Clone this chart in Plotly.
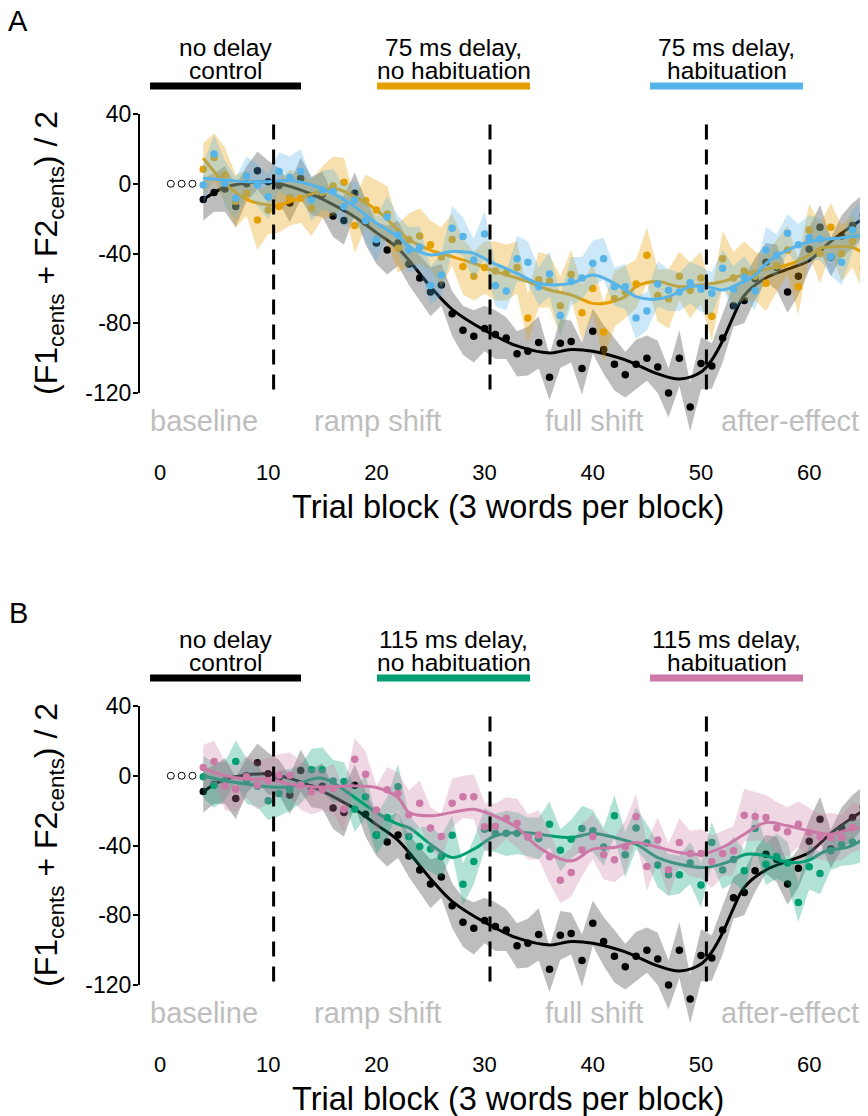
import plotly.graph_objects as go

# page has an 8px body margin; figure is sized so that it fills the 868x1116 window
PAGE_OFF = 8
W, H = 868 - PAGE_OFF, 1116 - PAGE_OFF
FONT = "Liberation Sans, Arial, sans-serif"

# ---------------- data ----------------
blocks = list(range(4, 66))
baseline_blocks = [1, 2, 3]
baseline_vals = [0, 0, 0]

x_ticks = [0, 10, 20, 30, 40, 50, 60]
y_ticks = [40, 0, -40, -80, -120]
y_ticktext = ["40", "0", "-40", "-80", "-120"]

phase_bounds = [10.5, 30.5, 50.5]
phase_names = ["baseline", "ramp shift", "full shift", "after-effect"]
phase_label_x = [4.1, 20.1, 40.1, 58.2]

black_vals = [-9, -5, -3, -13, 0, 7.5, 1.2, -1, -11, 3,
              -7, -6, -18.5, -21, -5.5, -22, -34, -38, -34, -46,
              -54, -62, -58, -74.5, -84, -87.5, -83, -86.5, -88.5, -97.5,
              -96, -91, -111, -91.5, -90.5, -106, -84.5, -95, -103.5, -109.5,
              -103.5, -100, -105, -120, -100, -128, -103, -104.5, -88.5, -70,
              -67, -54.5, -45, -48, -62, -53, -37.5, -25, -42, -30,
              -24, -18]
black_se = [12, 11, 13, 12, 10, 11, 12, 10, 11, 12,
            11, 13, 12, 14, 12, 13, 12, 14, 13, 12,
            13, 14, 12, 13, 14, 15, 13, 14, 12, 13,
            14, 15, 13, 14, 12, 15, 13, 14, 15, 13,
            14, 13, 15, 14, 16, 14, 15, 13, 14, 12,
            13, 12, 11, 13, 12, 11, 12, 13, 11, 12,
            13, 12]
black_smooth_x = [4, 6, 8, 10, 12, 14, 16, 18, 20, 22, 25, 27, 30, 33, 36, 38, 40, 43, 46, 48,
                  50, 51, 52, 53, 54, 56, 58, 60, 62, 64, 65]
black_smooth_y = [-9, -2, 0.5, 1, -1.5, -6, -12, -19, -28, -37, -59, -72, -84, -93, -97, -95, -96, -101, -109, -112,
                  -108, -101, -90, -76, -64, -54, -49, -44, -33, -24, -20]

orange_vals = [8.3, 15, 5, -10, -5.5, -20.8, -15, -13, -8, -8.3,
               -14, -5, -1.3, 0.8, -24, -9.7, -15, -17.3, -37, -32,
               -30, -35, -42, -32, -47.5, -53, -48, -50, -51, -48,
               -77, -55, -56, -70, -52, -74, -60, -85, -66, -62,
               -57.5, -41, -64, -66, -53, -61, -54, -76, -43, -54,
               -50, -53, -57, -47, -38, -59, -26.5, -40, -25, -40,
               -33, -48]
orange_se = [15, 14, 16, 15, 13, 17, 14, 15, 16, 14,
             16, 15, 17, 14, 16, 15, 17, 16, 14, 15,
             16, 14, 17, 15, 16, 14, 15, 17, 16, 15,
             14, 16, 15, 17, 14, 16, 15, 17, 16, 15,
             14, 16, 15, 17, 14, 16, 15, 14, 16, 15,
             17, 14, 16, 15, 14, 16, 15, 17, 14, 16,
             15, 14]
orange_smooth_x = [4, 6, 8, 10, 11, 12, 14, 16, 18, 20, 22, 23, 25, 27, 29, 31, 33.6, 36, 38, 40,
                   41, 43, 44, 46, 48, 50, 52, 54, 56, 58, 60, 61, 62.5, 64, 65]
orange_smooth_y = [14.6, 0.3, -8.9, -12.2, -12.2, -10.3, -5.9, -2.6, -7.4, -15, -26.5, -32, -38, -41.8, -45.6,
                   -50.4, -55.2, -60.9, -63.8, -68.6, -68.6, -64.7, -59, -56.1, -59, -58, -56, -52, -49, -46.6,
                   -41, -37, -36.1, -36.4, -39.9]

blue_vals = [-0.7, 17, 0.3, -8.3, 4.5, -0.7, -7.4, 7, 3.7, 7,
             -9.3, -3.6, -4.5, -13, -9.3, -21, -32, -19, -29.4, -38,
             -36.4, -58.4, -52.3, -25.5, -30.3, -43.7, -28.8, -58.4, -61.5, -43,
             -45, -59, -51.7, -75.6, -56, -54, -45.6, -43, -59, -59,
             -77, -73, -57.5, -61, -62, -56.7, -60.5, -62.8, -48.5, -60.3,
             -53.6, -61.3, -38, -41, -28.4, -35, -31, -31.7, -41.8, -45,
             -26.5, -21]
blue_se = [12, 11, 13, 12, 11, 12, 13, 11, 12, 13,
           12, 11, 13, 12, 11, 12, 13, 12, 11, 13,
           12, 11, 12, 13, 11, 12, 13, 12, 11, 13,
           12, 11, 13, 12, 14, 12, 13, 12, 11, 13,
           12, 11, 13, 12, 11, 12, 13, 12, 11, 13,
           12, 11, 13, 12, 11, 12, 13, 12, 11, 13,
           12, 11]
blue_smooth_x = [4, 6, 8, 10, 12, 14, 16, 18, 20, 22, 23, 25, 27, 29, 30.5, 33, 35, 38, 40, 42,
                 44, 45.6, 47, 49, 50.5, 52, 53.3, 54.8, 56.4, 58, 59.5, 61, 62.5, 64, 65]
blue_smooth_y = [3.1, 2.2, 1.2, 1.2, 1.8, -0.7, -5.5, -13.1, -22.7, -30.3, -36, -40.8, -38.9, -39.9, -44.7,
                 -51.4, -57.1, -57.1, -52.3, -57.1, -64.7, -66.3, -64.7, -59, -59, -60.9, -58, -53.3, -43.7,
                 -38, -34.2, -32.2, -31.3, -30.3, -29.4]

green_vals = [-0.6, -5.4, -3, 8.2, -3, -6, -14.4, -10.2, -8, -5,
              3.4, 3.4, -3, -3.3, -19.2, -12, -33.9, -23.9, -6.3, -34.8,
              -40.6, -42, -46.3, -34.1, -62.2, -49.2, -30.6, -32.9, -33, -33,
              -35, -36, -27.8, -42.7, -36.4, -30.2, -31.6, -40.8, -23, -45.3,
              -30, -38.6, -51.1, -56.8, -56.8, -50, -62.7, -38.3, -54.1, -48,
              -54.5, -30.2, -50.7, -46.1, -50, -72.7, -52.2, -56, -43, -39.6,
              -38, -37.3]
green_se = [12, 13, 11, 12, 13, 12, 11, 13, 12, 11,
            12, 13, 12, 11, 13, 12, 11, 12, 13, 12,
            11, 13, 12, 11, 12, 13, 12, 11, 13, 12,
            11, 12, 13, 12, 11, 13, 12, 11, 12, 13,
            12, 11, 13, 12, 11, 12, 13, 12, 11, 13,
            12, 11, 12, 13, 12, 11, 13, 12, 11, 12,
            13, 12]
green_smooth_x = [4, 6, 8, 10, 12, 14, 15, 16, 18, 20, 22, 23, 25, 27, 29, 31, 33.6, 36, 38, 40,
                  42, 44, 46, 48.7, 50.5, 52.4, 54.2, 56, 58, 59.8, 61.6, 63.5, 65]
green_smooth_y = [0, -2.9, -4.8, -6.3, -6.3, -2, -1.4, -3.9, -12.5, -21, -27.8, -29.7, -39.2, -46.9, -42.1,
                  -34.4, -32.5, -34.4, -35.4, -33.1, -35.4, -39.2, -46.9, -51.6, -52.6, -49.7, -45, -45.9,
                  -49.7, -48.8, -43, -41.1, -36.4]

pink_vals = [4.7, 8.2, -5.8, -7.7, -0.6, -5.4, -2.9, 0.3, 0.3, -5.4,
             -9.2, -8.1, -7.3, -19.2, 9.5, 0.9, -19.7, -8, -10.2, -22.4,
             -15.7, -30, -34.8, -15.7, -12.1, -12.1, -29.3, -29.1, -24.3, -27.2,
             -35, -33.9, -46.5, -59.9, -55.5, -42.5, -34.8, -45.3, -48.2, -40.7,
             -23.5, -52, -36.9, -53.9, -38.3, -44.6, -44.6, -49.2, -44.6, -43,
             -22.6, -23.4, -24, -30, -32.1, -27.8, -32.5, -35, -35.4, -35.4,
             -29.7, -29.7]
pink_se = [13, 12, 14, 13, 12, 14, 13, 12, 13, 14,
           13, 12, 14, 13, 12, 13, 14, 13, 12, 14,
           13, 12, 13, 14, 12, 13, 14, 13, 12, 14,
           13, 14, 15, 13, 14, 15, 13, 14, 13, 15,
           13, 14, 13, 15, 14, 13, 14, 15, 13, 14,
           15, 14, 13, 15, 14, 13, 14, 13, 14, 13,
           14, 13]
pink_smooth_x = [4, 6, 8, 10, 12, 14, 16, 18, 20, 22, 23, 25, 27, 29, 30.5, 33, 35, 38, 40, 42,
                 44, 46, 48, 50, 52, 54, 56, 58, 60, 62, 63.5, 65]
pink_smooth_y = [4.4, 0, -1.9, -1.9, -4.8, -6.3, -6.3, -5.8, -6.7, -12.5, -21, -23, -21, -19.2, -22,
                 -29.7, -41.1, -48.8, -42.1, -41.1, -38.3, -41, -44, -45, -41, -33.5, -26.8, -28.7,
                 -31.6, -33.5, -31.2, -29.7]

BLACK = "#000000"
ORANGE = "#E69F00"
BLUE = "#56B4E9"
GREEN = "#009E73"
PINK = "#CC79A7"

panel_A_groups = [("no delay", "control", BLACK),
                  ("75 ms delay,", "no habituation", ORANGE),
                  ("75 ms delay,", "habituation", BLUE)]
panel_B_groups = [("no delay", "control", BLACK),
                  ("115 ms delay,", "no habituation", GREEN),
                  ("115 ms delay,", "habituation", PINK)]

# ---------------- geometry (in window pixels) ----------------
PLOT_L = 139          # left edge of plot area (y-axis line)
PLOT_R = 868
PX_PER_BLOCK = 10.82
X0_PX = 160.0         # window x of block 0
PX_PER_UNIT_Y = 1.744
x_range = [(PLOT_L - X0_PX) / PX_PER_BLOCK, (PLOT_R - X0_PX) / PX_PER_BLOCK]


def px(xw):
    return (xw - PAGE_OFF) / W


def py(yw):
    return 1 - (yw - PAGE_OFF) / H


panels = [
    dict(top=100, bottom=450, y40=114, xa="x", ya="y", letter="A", letter_y=21,
         groups=panel_A_groups, offset=0),
    dict(top=692, bottom=1042, y40=706, xa="x2", ya="y2", letter="B", letter_y=613,
         groups=panel_B_groups, offset=592),
]

fig = go.Figure()


def hexa(c, a):
    c = c.lstrip("#")
    r, g, b = int(c[0:2], 16), int(c[2:4], 16), int(c[4:6], 16)
    return f"rgba({r},{g},{b},{a})"


def add_series(vals, se, sx, sy, color, ribbon_alpha, xa, ya):
    upper = [v + s for v, s in zip(vals, se)]
    lower = [v - s for v, s in zip(vals, se)]
    fig.add_trace(go.Scatter(x=blocks + blocks[::-1], y=upper + lower[::-1], fill="toself",
                             fillcolor=hexa(color, ribbon_alpha), line=dict(width=0),
                             mode="lines", hoverinfo="skip", xaxis=xa, yaxis=ya, showlegend=False))
    fig.add_trace(go.Scatter(x=blocks, y=vals, mode="markers",
                             marker=dict(size=7.5, color=color, line=dict(width=0)),
                             xaxis=xa, yaxis=ya, showlegend=False))
    fig.add_trace(go.Scatter(x=sx, y=sy, mode="lines",
                             line=dict(color=color, width=3, shape="spline", smoothing=1.0),
                             xaxis=xa, yaxis=ya, showlegend=False))


series_A = [(black_vals, black_se, black_smooth_x, black_smooth_y, BLACK, 0.26),
            (orange_vals, orange_se, orange_smooth_x, orange_smooth_y, ORANGE, 0.32),
            (blue_vals, blue_se, blue_smooth_x, blue_smooth_y, BLUE, 0.3)]
series_B = [(black_vals, black_se, black_smooth_x, black_smooth_y, BLACK, 0.26),
            (green_vals, green_se, green_smooth_x, green_smooth_y, GREEN, 0.3),
            (pink_vals, pink_se, pink_smooth_x, pink_smooth_y, PINK, 0.3)]

shapes = []
annotations = []
layout_axes = {}

for p, series in zip(panels, [series_A, series_B]):
    xa, ya = p["xa"], p["ya"]
    for vals, se, sx, sy, col, al in series:
        add_series(vals, se, sx, sy, col, al, xa, ya)
    # open circles for the first (unplotted) baseline blocks
    fig.add_trace(go.Scatter(x=baseline_blocks, y=baseline_vals, mode="markers",
                             marker=dict(size=7, color="white", line=dict(color="black", width=1)),
                             xaxis=xa, yaxis=ya, showlegend=False))

    y_top_val = 40 + (p["y40"] - p["top"]) / PX_PER_UNIT_Y
    y_bot_val = 40 - (p["bottom"] - p["y40"]) / PX_PER_UNIT_Y
    xname = "xaxis" if xa == "x" else "xaxis2"
    yname = "yaxis" if ya == "y" else "yaxis2"
    layout_axes[xname] = dict(domain=[px(PLOT_L), px(PLOT_R)], range=x_range, anchor=ya,
                              tickmode="array", tickvals=x_ticks, ticktext=[str(t) for t in x_ticks],
                              showgrid=False, zeroline=False, showline=False, ticks="",
                              ticklabelstandoff=7,
                              tickfont=dict(family=FONT, size=22, color="black"))
    layout_axes[yname] = dict(domain=[py(p["bottom"]), py(p["top"])],
                              range=[y_bot_val, y_top_val], anchor=xa,
                              tickmode="array", tickvals=y_ticks, ticktext=y_ticktext,
                              showgrid=False, zeroline=False, showline=False,
                              ticks="outside", ticklen=5, tickwidth=2, tickcolor="black",
                              ticklabelstandoff=-3,
                              tickfont=dict(family=FONT, size=23, color="black"))

    # y axis line (capped at 40 / -120)
    shapes.append(dict(type="line", xref="paper", yref=ya, x0=px(PLOT_L), x1=px(PLOT_L),
                       y0=min(y_ticks), y1=max(y_ticks), line=dict(color="black", width=2)))
    # phase boundaries
    for xb in phase_bounds:
        shapes.append(dict(type="line", xref=xa, yref=ya, x0=xb, x1=xb, y0=min(y_ticks) + 2, y1=max(y_ticks) - 2,
                           line=dict(color="black", width=3, dash="15px,10px"), layer="above"))
    # phase labels
    for name, xl in zip(phase_names, phase_label_x):
        annotations.append(dict(text=name, xref=xa, yref=ya, x=xl, y=-136, showarrow=False,
                                xanchor="center", yanchor="middle",
                                font=dict(family=FONT, size=29, color="#BEBEBE")))
    # group bars + labels
    off = p["offset"]
    bar_spans = [(150, 301), (377, 530), (650, 803)]
    for (l1, l2, col), (bx0, bx1) in zip(p["groups"], bar_spans):
        cx = (bx0 + bx1) / 2
        shapes.append(dict(type="rect", xref="paper", yref="paper", x0=px(bx0), x1=px(bx1),
                           y0=py(off + 89.5), y1=py(off + 82.5),
                           fillcolor=col, line=dict(width=0)))
        annotations.append(dict(text=l1, xref="paper", yref="paper", x=px(cx), y=py(off + 47),
                                showarrow=False, xanchor="center", yanchor="middle",
                                font=dict(family=FONT, size=24.5, color="black")))
        annotations.append(dict(text=l2, xref="paper", yref="paper", x=px(cx), y=py(off + 70),
                                showarrow=False, xanchor="center", yanchor="middle",
                                font=dict(family=FONT, size=24.5, color="black")))
    # axis titles
    annotations.append(dict(text="Trial block (3 words per block)", xref="paper", yref="paper",
                            x=px(508), y=py(off + 507), showarrow=False,
                            xanchor="center", yanchor="middle",
                            font=dict(family=FONT, size=32.5, color="black")))
    annotations.append(dict(text="(F1<sub>cents</sub> + F2<sub>cents</sub>) / 2", xref="paper", yref="paper",
                            x=px(48), y=py(off + 253), showarrow=False, textangle=-90,
                            xanchor="center", yanchor="middle",
                            font=dict(family=FONT, size=32, color="black")))
    # panel letter
    annotations.append(dict(text=p["letter"], xref="paper", yref="paper", x=px(18), y=py(p["letter_y"]),
                            showarrow=False, xanchor="center", yanchor="middle",
                            font=dict(family=FONT, size=29, color="black")))

fig.update_layout(width=W, height=H, autosize=False,
                  margin=dict(l=0, r=0, t=0, b=0),
                  paper_bgcolor="white", plot_bgcolor="white",
                  showlegend=False, shapes=shapes, annotations=annotations,
                  font=dict(family=FONT),
                  **layout_axes)

fig.write_html("out.html")
